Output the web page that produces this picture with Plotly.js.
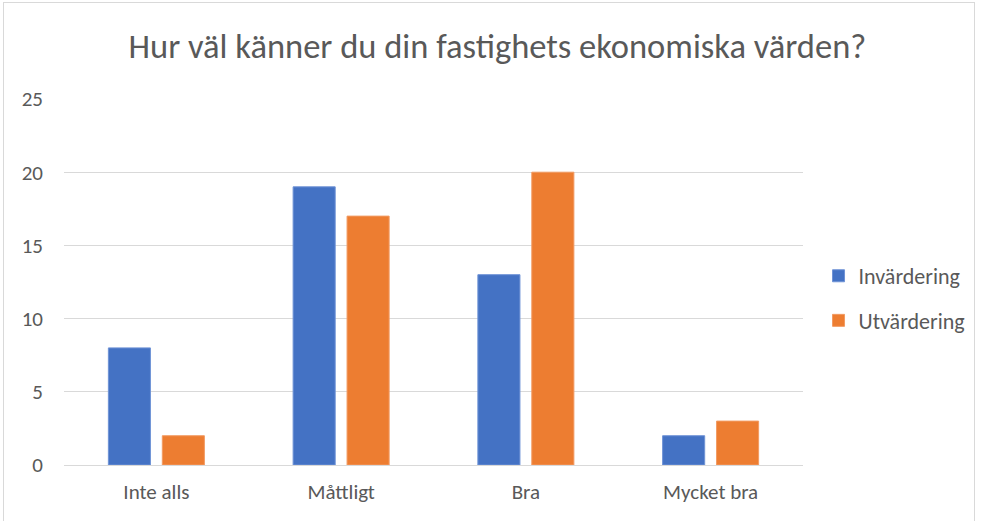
<!DOCTYPE html>
<html>
<head>
<meta charset="utf-8">
<script src="https://cdn.plot.ly/plotly-3.0.1.min.js"></script>
<style>
html,body{margin:0;padding:0;background:#fff;}
#frame{position:absolute;left:3px;top:2px;width:972px;height:520px;border:1px solid #d9d9d9;border-bottom:none;box-sizing:border-box;}
#chart{position:absolute;left:0;top:0;width:985px;height:521px;}
</style>
</head>
<body>
<div id="frame"></div>
<div id="chart"></div>
<script>
const categories = ["Inte alls", "Måttligt", "Bra", "Mycket bra"];
const seriesNames = ["Invärdering", "Utvärdering"];
const invardering = [8, 19, 13, 2];
const utvardering = [2, 17, 20, 3];
const yTicks = [0, 5, 10, 15, 20, 25];
const chartTitle = "Hur väl känner du din fastighets ekonomiska värden?";

const font = "Carlito, 'Liberation Sans', Arial, sans-serif";
const traces = [
  {type: "bar", name: seriesNames[0], x: categories, y: invardering, legendgroup: "a",
   marker: {color: "#4472c4", line: {color: "#6f93d6", width: 1}}, hoverinfo: "none"},
  {type: "bar", name: seriesNames[1], x: categories, y: utvardering, legendgroup: "b",
   marker: {color: "#ed7d31", line: {color: "#f29b63", width: 1}}, hoverinfo: "none"}
];
const layout = {
  width: 985, height: 521,
  paper_bgcolor: "rgba(0,0,0,0)", plot_bgcolor: "rgba(0,0,0,0)",
  margin: {l: 64, r: 182, t: 99, b: 56},
  title: {text: chartTitle, font: {family: font, size: 34.5, color: "#595959"}, x: 0.505, xanchor: "center", y: 0.912, yanchor: "middle"},
  barmode: "group", bargap: 0.416, bargroupgap: 0.22,
  xaxis: {type: "category", showgrid: false, zeroline: false, showline: false, ticks: "",
          ticklabelstandoff: 12,
          tickfont: {family: font, size: 21, color: "#595959"}},
  yaxis: {range: [0, 25], tickvals: yTicks, showgrid: true, gridcolor: "#d9d9d9", gridwidth: 1,
          zeroline: true, zerolinecolor: "#d9d9d9", zerolinewidth: 1, showline: false, ticks: "",
          ticklabelstandoff: 20,
          tickfont: {family: font, size: 21, color: "#595959"}},
  showlegend: true,
  legend: {x: 1.021, xanchor: "left", y: 0.455, yanchor: "middle", traceorder: "grouped", tracegroupgap: 13,
           itemwidth: 30,
           font: {family: font, size: 22, color: "#595959"}, bgcolor: "rgba(0,0,0,0)"}
};
Plotly.newPlot("chart", traces, layout, {displayModeBar: false, staticPlot: true});
</script>
</body>
</html>
